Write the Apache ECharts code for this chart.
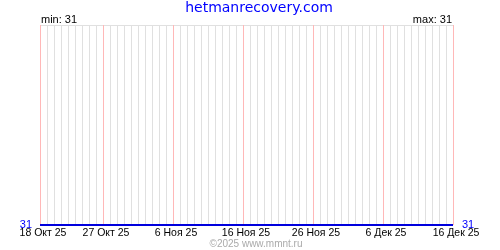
<!DOCTYPE html>
<html><head><meta charset="utf-8">
<script src="https://cdn.jsdelivr.net/npm/echarts@6/dist/echarts.min.js"></script>
<style>html,body{margin:0;padding:0;background:#fff}#c{width:500px;height:250px}</style>
</head><body><div id="c"></div>
<script>
const titleText = "hetmanrecovery.com";
const footerText = "©2025 www.mmnt.ru";
const monthNames = ["Янв","Фев","Мар","Апр","Май","Июн","Июл","Авг","Сен","Окт","Ноя","Дек"];
// daily dates 18 Oct 2025 .. 16 Dec 2025
const dates = [
"2025-10-18","2025-10-19","2025-10-20","2025-10-21","2025-10-22","2025-10-23","2025-10-24","2025-10-25","2025-10-26","2025-10-27",
"2025-10-28","2025-10-29","2025-10-30","2025-10-31","2025-11-01","2025-11-02","2025-11-03","2025-11-04","2025-11-05","2025-11-06",
"2025-11-07","2025-11-08","2025-11-09","2025-11-10","2025-11-11","2025-11-12","2025-11-13","2025-11-14","2025-11-15","2025-11-16",
"2025-11-17","2025-11-18","2025-11-19","2025-11-20","2025-11-21","2025-11-22","2025-11-23","2025-11-24","2025-11-25","2025-11-26",
"2025-11-27","2025-11-28","2025-11-29","2025-11-30","2025-12-01","2025-12-02","2025-12-03","2025-12-04","2025-12-05","2025-12-06",
"2025-12-07","2025-12-08","2025-12-09","2025-12-10","2025-12-11","2025-12-12","2025-12-13","2025-12-14","2025-12-15","2025-12-16"
];
const values = [
31,31,31,31,31,31,31,31,31,31,
31,31,31,31,31,31,31,31,31,31,
31,31,31,31,31,31,31,31,31,31,
31,31,31,31,31,31,31,31,31,31,
31,31,31,31,31,31,31,31,31,31,
31,31,31,31,31,31,31,31,31,31
];
const labeledDates = ["2025-10-18","2025-10-27","2025-11-06","2025-11-16","2025-11-26","2025-12-06","2025-12-16"];
const minVal = Math.min(...values), maxVal = Math.max(...values);

function fmtDate(s){
  const p = s.split("-");
  return parseInt(p[2],10) + " " + monthNames[parseInt(p[1],10)-1] + " " + p[0].slice(2);
}
const isLabeled = (i) => labeledDates.indexOf(dates[i]) >= 0;
const gridColors = dates.map((d, i) => isLabeled(i) ? '#ffb8b8' : '#e0e0e0');
const font = "DejaVu Sans";
const sfont = "Liberation Sans";

const chart = echarts.init(document.getElementById('c'), null, {renderer:'canvas'});
chart.setOption({
  animation:false,
  backgroundColor:'#fff',
  title:[
    {text:titleText, left:259, top:1, textAlign:'center', padding:0,
     textStyle:{color:'#0000ff', fontFamily:font, fontSize:14, fontWeight:'normal'}},
    {text:'min: ' + minVal, left:41, top:14, padding:0,
     textStyle:{color:'#000', fontFamily:sfont, fontSize:11, fontWeight:'normal'}},
    {text:'max: ' + maxVal, right:48, top:14, padding:0,
     textStyle:{color:'#000', fontFamily:sfont, fontSize:11, fontWeight:'normal'}},
    {text:footerText, left:256, top:239, textAlign:'center', padding:0,
     textStyle:{color:'#aaaaaa', fontFamily:sfont, fontSize:10, fontWeight:'normal'}}
  ],
  grid:{left:40, right:47, top:25, bottom:25, containLabel:false},
  xAxis:[
    {type:'category', data:dates, boundaryGap:false, position:'bottom',
     axisLine:{show:false}, axisTick:{show:false},
     axisLabel:{show:true, interval:(i)=>isLabeled(i), formatter:(v)=>fmtDate(v),
       color:'#000', fontFamily:sfont, fontSize:10.5, margin:3, padding:[0,0,0,6]},
     splitLine:{show:true, interval:0, lineStyle:{color:gridColors, width:1}}}
  ],
  yAxis:[
    {type:'value', min:minVal, max:minVal+1, interval:1, position:'left',
     axisLine:{show:false}, axisTick:{show:false},
     axisLabel:{color:'#0000ff', fontFamily:sfont, fontSize:11, margin:8,
       formatter:(v)=> v===minVal ? String(v) : ''},
     splitLine:{show:true, lineStyle:{color:'#e0e0e0', width:1}}},
    {type:'value', min:minVal, max:minVal+1, interval:1, position:'right',
     axisLine:{show:false}, axisTick:{show:false},
     axisLabel:{color:'#0000ff', fontFamily:sfont, fontSize:11, margin:9,
       formatter:(v)=> v===minVal ? String(v) : ''},
     splitLine:{show:false}}
  ],
  series:[
    {type:'line', data:values, xAxisIndex:0, yAxisIndex:0, symbol:'none',
     lineStyle:{color:'#0000dd', width:2}, z:5}
  ]
});
</script></body></html>
